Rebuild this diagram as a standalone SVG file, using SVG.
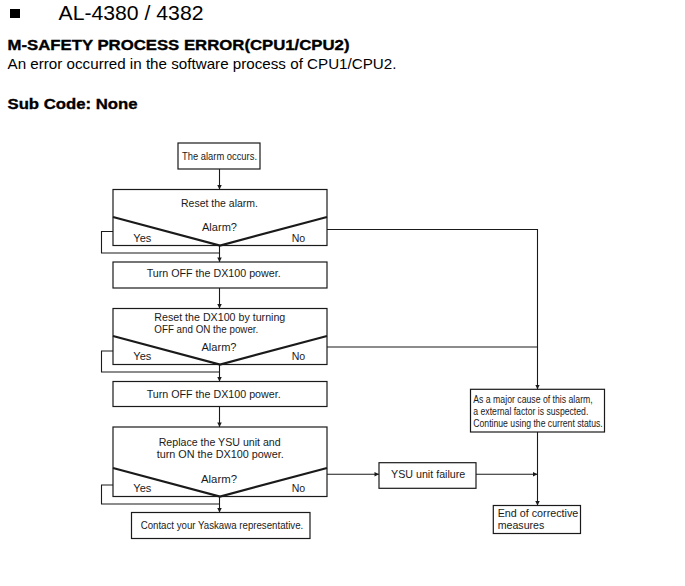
<svg xmlns="http://www.w3.org/2000/svg" width="685" height="586" viewBox="0 0 685 586">
<defs>
<style>
.bx{fill:#fff;stroke:#1a1a1a;stroke-width:1.2}
.dg{fill:none;stroke:#1a1a1a;stroke-width:2.2;stroke-linejoin:miter}
.ln{fill:none;stroke:#1a1a1a;stroke-width:1.1}
.ar{fill:none;stroke:#1a1a1a;stroke-width:1.1;marker-end:url(#ah)}
.t{font-family:"Liberation Sans",Arial,sans-serif;font-size:10.5px;fill:#1a1a1a}
.ts{font-family:"Liberation Sans",Arial,sans-serif;font-size:10px;fill:#1a1a1a}
.te{font-family:"Liberation Sans",Arial,sans-serif;font-size:11px;fill:#1a1a1a}
.h{font-family:"Liberation Sans",Arial,sans-serif;fill:#000}
.hb{font-family:"Liberation Sans",Arial,sans-serif;fill:#000;font-weight:bold;stroke:#000;stroke-width:0.35}
</style>
<marker id="ah" viewBox="0 0 6 6" refX="6" refY="3" markerWidth="5" markerHeight="4.5" markerUnits="userSpaceOnUse" orient="auto">
<path d="M0,0 L6,3 L0,6 z" fill="#1a1a1a"/>
</marker>
</defs>
<rect width="685" height="586" fill="#fff"/>
<g id="header">
<rect x="10" y="9" width="10" height="9" fill="#000"/>
<text class="h" x="58.5" y="19.5" font-size="20" textLength="145" lengthAdjust="spacingAndGlyphs">AL-4380 / 4382</text>
<text class="hb" x="7.5" y="50" font-size="15" textLength="342" lengthAdjust="spacingAndGlyphs">M-SAFETY PROCESS ERROR(CPU1/CPU2)</text>
<text class="h" x="7.5" y="68.5" font-size="15" textLength="389" lengthAdjust="spacingAndGlyphs">An error occurred in the software process of CPU1/CPU2.</text>
<text class="hb" x="7.5" y="108.5" font-size="15" textLength="130" lengthAdjust="spacingAndGlyphs">Sub Code: None</text>
</g>
<g id="connectors">
<line class="ar" x1="219.5" y1="169" x2="219.5" y2="189.5"/>
<polyline class="ln" points="113,231.5 101.5,231.5 101.5,253 219.5,253"/>
<line class="ar" x1="219.5" y1="245.5" x2="219.5" y2="262"/>
<polyline class="ar" points="327,229.5 537.5,229.5 537.5,389.3"/>
<line class="ar" x1="219.5" y1="288" x2="219.5" y2="308.5"/>
<polyline class="ln" points="113,351 101.5,351 101.5,372 219.5,372"/>
<line class="ar" x1="219.5" y1="364.5" x2="219.5" y2="381.5"/>
<line class="ln" x1="327" y1="347" x2="537.5" y2="347"/>
<line class="ar" x1="219.5" y1="406.5" x2="219.5" y2="427"/>
<polyline class="ln" points="113,485 101.5,485 101.5,504 219.5,504"/>
<line class="ar" x1="219.5" y1="497" x2="219.5" y2="512.5"/>
<line class="ar" x1="327" y1="474.3" x2="379" y2="474.3"/>
<line class="ar" x1="476" y1="474.3" x2="537.5" y2="474.3"/>
<line class="ar" x1="537.5" y1="432" x2="537.5" y2="505.5"/>
</g>
<g id="n-alarm-occurs">
<rect class="bx" x="178" y="143" width="82" height="26"/>
<text class="t" x="182" y="160.3" textLength="75" lengthAdjust="spacingAndGlyphs">The alarm occurs.</text>
</g>
<g id="n-reset-alarm">
<rect class="bx" x="113" y="189.5" width="214" height="56"/>
<polyline class="dg" points="113,217 220,245.5 327,217"/>
<text class="t" x="181" y="206.8" textLength="77" lengthAdjust="spacingAndGlyphs">Reset the alarm.</text>
<text class="t" x="202" y="230.8" textLength="35" lengthAdjust="spacingAndGlyphs">Alarm?</text>
<text class="t" x="133.3" y="241.5" textLength="18" lengthAdjust="spacingAndGlyphs">Yes</text>
<text class="t" x="291.7" y="241.5" textLength="13.5" lengthAdjust="spacingAndGlyphs">No</text>
</g>
<g id="n-turn-off-1">
<rect class="bx" x="113" y="262" width="214" height="26"/>
<text class="t" x="146.7" y="277.3" textLength="134" lengthAdjust="spacingAndGlyphs">Turn OFF the DX100 power.</text>
</g>
<g id="n-reset-dx100">
<rect class="bx" x="113" y="308.5" width="214" height="56"/>
<polyline class="dg" points="113,336 220,364.5 327,336"/>
<text class="t" x="154.3" y="320.5" textLength="131" lengthAdjust="spacingAndGlyphs">Reset the DX100 by turning</text>
<text class="t" x="154.3" y="332.8" textLength="104" lengthAdjust="spacingAndGlyphs">OFF and ON the power.</text>
<text class="t" x="201.5" y="350.8" textLength="35" lengthAdjust="spacingAndGlyphs">Alarm?</text>
<text class="t" x="133.3" y="360" textLength="18" lengthAdjust="spacingAndGlyphs">Yes</text>
<text class="t" x="291.7" y="360" textLength="13.5" lengthAdjust="spacingAndGlyphs">No</text>
</g>
<g id="n-turn-off-2">
<rect class="bx" x="113" y="381.5" width="214" height="25"/>
<text class="t" x="146.7" y="397.6" textLength="134" lengthAdjust="spacingAndGlyphs">Turn OFF the DX100 power.</text>
</g>
<g id="n-replace-ysu">
<rect class="bx" x="113" y="427" width="214" height="69.5"/>
<polyline class="dg" points="113,468 220,496.5 327,468"/>
<text class="t" x="158.7" y="445.5" textLength="122" lengthAdjust="spacingAndGlyphs">Replace the YSU unit and</text>
<text class="t" x="156.7" y="458.1" textLength="127" lengthAdjust="spacingAndGlyphs">turn ON the DX100 power.</text>
<text class="t" x="201" y="482.8" textLength="36" lengthAdjust="spacingAndGlyphs">Alarm?</text>
<text class="t" x="133.3" y="491.5" textLength="18" lengthAdjust="spacingAndGlyphs">Yes</text>
<text class="t" x="291.7" y="491.5" textLength="13.5" lengthAdjust="spacingAndGlyphs">No</text>
</g>
<g id="n-contact">
<rect class="bx" x="131.5" y="512.5" width="178.5" height="26"/>
<text class="t" x="140.7" y="529.3" textLength="162.6" lengthAdjust="spacingAndGlyphs">Contact your Yaskawa representative.</text>
</g>
<g id="n-external">
<rect class="bx" x="470.5" y="389.3" width="134" height="42.7"/>
<text class="ts" x="473.3" y="403.2" textLength="119.4" lengthAdjust="spacingAndGlyphs">As a major cause of this alarm,</text>
<text class="ts" x="473.3" y="415.2" textLength="115" lengthAdjust="spacingAndGlyphs">a external factor is suspected.</text>
<text class="ts" x="473.3" y="426.7" textLength="129.4" lengthAdjust="spacingAndGlyphs">Continue using the current status.</text>
</g>
<g id="n-ysu-failure">
<rect class="bx" x="379" y="462.7" width="97" height="25.6"/>
<text class="t" x="391" y="478.1" textLength="74.3" lengthAdjust="spacingAndGlyphs">YSU unit failure</text>
</g>
<g id="n-end">
<rect class="bx" x="493.3" y="505.5" width="87.2" height="28"/>
<text class="te" x="497.7" y="517.3" textLength="80.6" lengthAdjust="spacingAndGlyphs">End of corrective</text>
<text class="te" x="497.7" y="529" textLength="46.6" lengthAdjust="spacingAndGlyphs">measures</text>
</g>
</svg>
